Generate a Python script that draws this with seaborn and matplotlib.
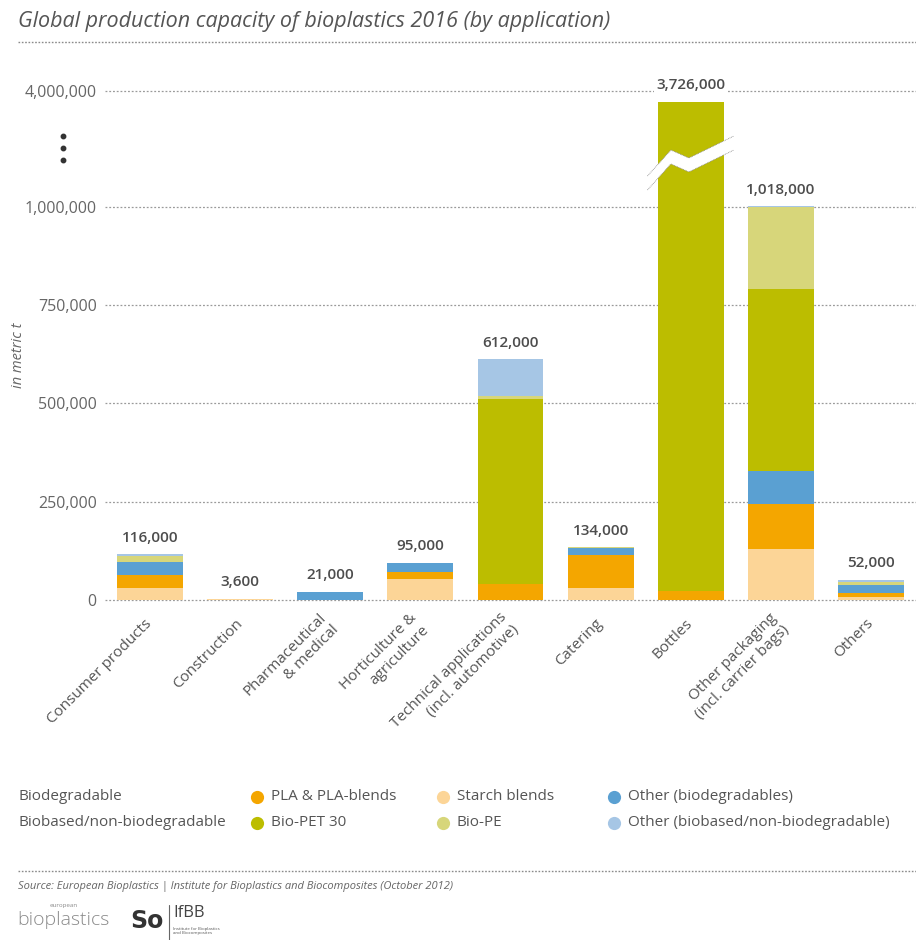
import numpy as np
import pandas as pd
import matplotlib
matplotlib.use("Agg")
import matplotlib.pyplot as plt
from matplotlib.lines import Line2D
from matplotlib.patches import Polygon
import seaborn as sns

# ---- data (metric tonnes) ----
categories = [
    "Consumer products",
    "Construction",
    "Pharmaceutical\n& medical",
    "Horticulture &\nagriculture",
    "Technical applications\n(incl. automotive)",
    "Catering",
    "Bottles",
    "Other packaging\n(incl. carrier bags)",
    "Others",
]
totals = [116000, 3600, 21000, 95000, 612000, 134000, 3726000, 1018000, 52000]

starch_blends = [30000, 2000, 0, 54000, 0, 30000, 0, 130000, 7000]
pla_blends = [33000, 1600, 0, 18000, 40000, 84000, 22000, 114000, 11000]
other_biodegradable = [33000, 0, 21000, 23000, 0, 17000, 0, 85000, 19000]
bio_pet30 = [0, 0, 0, 0, 472000, 0, 3704000, 462000, 0]
bio_pe = [15000, 0, 0, 0, 7000, 3000, 0, 218000, 9000]
other_biobased = [5000, 0, 0, 0, 93000, 0, 0, 9000, 6000]

series_names = ["Starch blends", "PLA & PLA-blends", "Other (biodegradables)",
                "Bio-PET 30", "Bio-PE", "Other (biobased/non-biodegradable)"]
series_values = [starch_blends, pla_blends, other_biodegradable,
                 bio_pet30, bio_pe, other_biobased]
series_colors = ["#fcd597", "#f4a600", "#5aa0d2", "#bcbd00", "#d7d67a", "#a6c6e5"]

y_ticks = [0, 250000, 500000, 750000, 1000000, 4000000]

# ---- broken y scale: linear up to 1M, compressed above ----
BREAK = 1_000_000
K = 0.0983


def fwd(y):
    y = np.asarray(y, dtype=float)
    return np.where(y <= BREAK, y, BREAK + (y - BREAK) * K)


def inv(d):
    d = np.asarray(d, dtype=float)
    return np.where(d <= BREAK, d, BREAK + (d - BREAK) / K)


sns.set_theme(style="white")
plt.rcParams["font.family"] = ["Open Sans", "DejaVu Sans"]

W, H = 916, 940
fig = plt.figure(figsize=(W / 100, H / 100), dpi=100)


def fx(px):
    return px / W


def fy(py):
    return 1 - py / H


ax = fig.add_axes([fx(105), fy(609), fx(811), (609 - 88) / H])

cum = np.zeros(len(categories))
cums = []
for vals in series_values:
    cum = cum + np.array(vals, dtype=float)
    cums.append(cum.copy())

# stacked bars: draw cumulative heights from the top layer down
for name, top, color in reversed(list(zip(series_names, cums, series_colors))):
    sns.barplot(x=categories, y=top, color=color, saturation=1, width=0.73,
                linewidth=0, errorbar=None, ax=ax, zorder=2)

ax.set_yscale("function", functions=(fwd, inv))
ax.set_ylim(-23000, 4080000)
ax.set_xlim(-0.5, len(categories) - 0.5)

ax.set_yticks(y_ticks)
ax.set_yticklabels([f"{v:,}" for v in y_ticks])
ax.yaxis.grid(True, linestyle=(0, (1.5, 1.5)), color="#9a9a9a", lw=0.9, zorder=0)
ax.xaxis.grid(False)
ax.set_axisbelow(True)
for s in ax.spines.values():
    s.set_visible(False)
ax.tick_params(axis="y", length=0, pad=6, labelsize=11.5, labelcolor="#666666")
ax.tick_params(axis="x", length=0, pad=9, labelsize=11, labelcolor="#555555")
ax.set_xlabel("")
ax.set_ylabel("")
for lab in ax.get_xticklabels():
    lab.set_rotation(45)
    lab.set_ha("right")
    lab.set_va("center")
    lab.set_rotation_mode("anchor")
    lab.set_multialignment("right")

# value labels above each bar
for i, t in enumerate(totals):
    ax.annotate(f"{t:,}", xy=(i, t), xytext=(0, 7), textcoords="offset points",
                ha="center", va="bottom", fontsize=11, fontweight="semibold",
                color="#4d4d4d", zorder=5,
                bbox=dict(boxstyle="square,pad=0.15", fc="white", ec="none"))

# axis break across the tall bar
bi = categories.index("Bottles")


def px_to_val(py):
    return float(inv((600 - py) / 393 * 1e6))


upper = [(bi - 0.48, 176), (bi - 0.22, 150), (bi - 0.02, 158), (bi + 0.48, 136)]
lower = [(x, py + 14) for x, py in upper]
poly = [(x, px_to_val(py)) for x, py in upper] + \
       [(x, px_to_val(py)) for x, py in reversed(lower)]
ax.add_patch(Polygon(poly, closed=True, fc="white", ec="none", zorder=4))
for edge in (upper, lower):
    ax.plot([x for x, _ in edge], [px_to_val(py) for _, py in edge],
            color="#8a8a8a", lw=0.6, ls=(0, (1, 1)), zorder=4)

# vertical ellipsis on the axis between the two scale parts
for py in (136, 148, 160):
    fig.add_artist(Line2D([fx(63)], [fy(py)], marker="o", ms=3.2,
                          color="#333333", transform=fig.transFigure))

fig.text(fx(18), fy(355), "in metric t", rotation=90, style="italic",
         fontsize=10.5, color="#666666", ha="center", va="center")

# title and separator
fig.text(fx(18), fy(22), "Global production capacity of bioplastics 2016 (by application)",
         style="italic", fontsize=15.5, color="#555555", ha="left", va="center")
for py in (42, 871):
    fig.add_artist(Line2D([fx(18), 1], [fy(py), fy(py)], color="#8a8a8a", lw=1.0,
                          ls=(0, (1.2, 1.2)), transform=fig.transFigure))

# legend
fig.text(fx(18), fy(797), "Biodegradable", fontsize=11, color="#555555", va="center")
fig.text(fx(18), fy(823), "Biobased/non-biodegradable", fontsize=11,
         color="#555555", va="center")
legend_layout = [
    ("PLA & PLA-blends", "#f4a600", 257, 797),
    ("Starch blends", "#fcd597", 443, 797),
    ("Other (biodegradables)", "#5aa0d2", 614, 797),
    ("Bio-PET 30", "#bcbd00", 257, 823),
    ("Bio-PE", "#d7d67a", 443, 823),
    ("Other (biobased/non-biodegradable)", "#a6c6e5", 614, 823),
]
for label, color, px, py in legend_layout:
    fig.add_artist(Line2D([fx(px)], [fy(py)], marker="o", ms=9.5, color=color,
                          mec="none", transform=fig.transFigure))
    fig.text(fx(px + 14), fy(py), label, fontsize=11, color="#555555", va="center")

# source and logos
fig.text(fx(18), fy(887),
         "Source: European Bioplastics | Institute for Bioplastics and Biocomposites (October 2012)",
         style="italic", fontsize=8, color="#666666", va="center")
fig.text(fx(17), fy(920), "bioplastics", fontsize=14, color="#8a8a8a", va="center",
         fontweight="light")
fig.text(fx(64), fy(905), "european", fontsize=4.5, color="#8a8a8a", ha="center",
         va="center")
fig.text(fx(130), fy(921), "So", fontsize=17, fontweight="bold", color="#333333",
         va="center", family="DejaVu Sans")
fig.add_artist(Line2D([fx(169), fx(169)], [fy(905), fy(940)], color="#666666",
                      lw=0.8, transform=fig.transFigure))
fig.text(fx(173), fy(913), "IfBB", fontsize=12, color="#444444", va="center")
fig.text(fx(173), fy(931), "Institute for Bioplastics\nand Biocomposites",
         fontsize=3.2, color="#555555", va="center", linespacing=1.1)

fig.savefig("out.png", dpi=100)
